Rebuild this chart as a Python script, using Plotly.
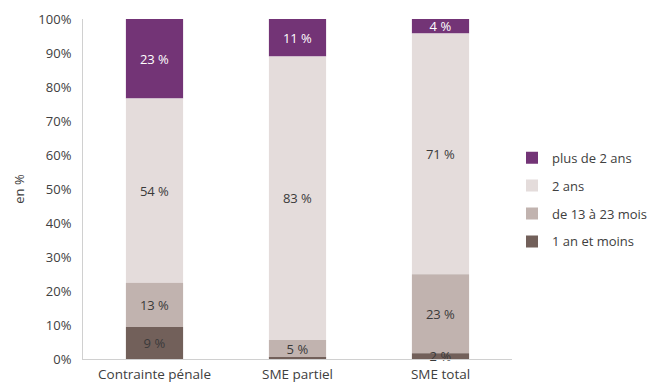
import plotly.graph_objects as go

# Catégories de mesure et répartition des durées (en %)
categories = ["Contrainte pénale", "SME partiel", "SME total"]

series_names = ["1 an et moins", "de 13 à 23 mois", "2 ans", "plus de 2 ans"]
un_an_et_moins = [9.4, 0.4, 1.7]
de_13_a_23_mois = [13.0, 5.2, 23.2]
deux_ans = [54.2, 83.4, 70.8]
plus_de_2_ans = [23.4, 11.0, 4.3]

# Libellés affichés (vide quand le segment est trop fin)
labels_un_an = ["9 %", "", "2 %"]
labels_13_23 = ["13 %", "5 %", "23 %"]
labels_2_ans = ["54 %", "83 %", "71 %"]
labels_plus_2 = ["23 %", "11 %", "4 %"]

tick_vals = [0, 10, 20, 30, 40, 50, 60, 70, 80, 90, 100]
tick_text = ["0%", "10%", "20%", "30%", "40%", "50%", "60%", "70%", "80%", "90%", "100%"]

colors = ["#72605A", "#C1B3AF", "#E4DCDB", "#733476"]
text_colors = ["#3a3a3a", "#3a3a3a", "#3a3a3a", "#ffffff"]
# la légende liste les segments du haut vers le bas
legend_ranks = [4, 3, 2, 1]

FONT = "'Open Sans', sans-serif"
TXT = "#404040"

series_values = [un_an_et_moins, de_13_a_23_mois, deux_ans, plus_de_2_ans]
series_labels = [labels_un_an, labels_13_23, labels_2_ans, labels_plus_2]

# empilement explicite : chaque segment démarre au cumul des segments inférieurs
bases = []
running = [0.0] * len(categories)
for vals in series_values:
    bases.append(list(running))
    running = [r + v for r, v in zip(running, vals)]

fig = go.Figure()
# tracé du haut vers le bas pour que les libellés des segments fins restent lisibles
for i in reversed(range(len(series_names))):
    fig.add_trace(
        go.Bar(
            name=series_names[i],
            legendgroup=series_names[i],
            legendrank=legend_ranks[i],
            x=categories,
            y=series_values[i],
            base=bases[i],
            text=series_labels[i],
            textposition="inside",
            insidetextanchor="middle",
            textangle=0,
            textfont=dict(family=FONT, size=13, color=text_colors[i]),
            marker=dict(color=colors[i], line=dict(width=0)),
            width=0.4,
            cliponaxis=False,
            hoverinfo="skip",
        )
    )

fig.update_layout(
    barmode="overlay",
    width=670,
    height=385,
    margin=dict(l=83, r=158, t=19, b=26),
    paper_bgcolor="white",
    plot_bgcolor="white",
    font=dict(family=FONT, size=13, color=TXT),
    uniformtext=dict(minsize=13, mode="show"),
    legend=dict(
        traceorder="grouped",
        x=1.0,
        xanchor="left",
        y=0.636,
        yanchor="top",
        font=dict(family=FONT, size=13, color=TXT),
        itemwidth=30,
        tracegroupgap=8,
        bgcolor="rgba(0,0,0,0)",
    ),
    showlegend=True,
)

fig.update_xaxes(
    automargin=False,
    showline=True,
    linecolor="#d0d0d0",
    linewidth=1,
    showgrid=False,
    ticks="",
    ticklabelstandoff=3,
    tickfont=dict(family=FONT, size=13.5, color=TXT),
)
fig.update_yaxes(
    automargin=False,
    range=[0, 100],
    tickvals=tick_vals,
    ticktext=tick_text,
    showline=True,
    linecolor="#d0d0d0",
    linewidth=1,
    showgrid=False,
    zeroline=False,
    ticks="",
    ticklabelstandoff=8,
    tickfont=dict(family=FONT, size=13, color=TXT),
    title=dict(text="en %", font=dict(family=FONT, size=13, color=TXT), standoff=10),
)

fig.write_html("out.html")
